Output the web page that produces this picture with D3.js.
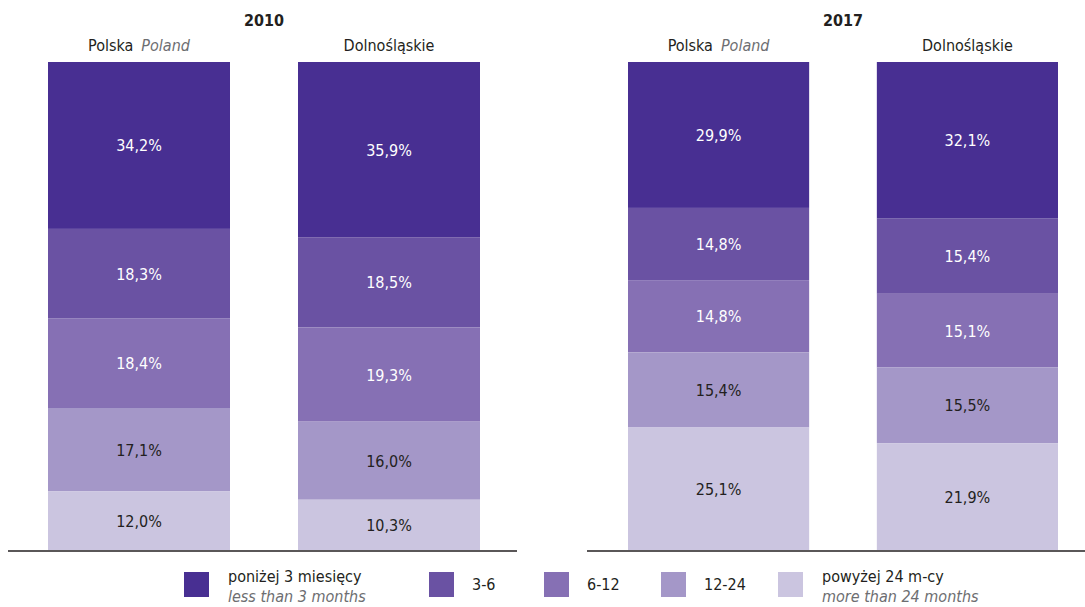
<!DOCTYPE html>
<html><head><meta charset="utf-8">
<script src="https://cdn.jsdelivr.net/npm/d3@7"></script>
<style>
body{margin:0;background:#fff;}
text{font-family:"DejaVu Sans Condensed","DejaVu Sans",sans-serif;font-stretch:condensed;}
</style></head>
<body><svg id="c" width="1085" height="607"></svg>
<script>
const years = ["2010", "2017"];
const regions = ["Polska", "Dolnośląskie"];
const regionsEn = ["Poland", ""];
const categories = ["poniżej 3 miesięcy", "3-6", "6-12", "12-24", "powyżej 24 m-cy"];
const categoriesEn = ["less than 3 months", "", "", "", "more than 24 months"];
const colors = ["#482f92", "#6a52a3", "#8670b4", "#a497c8", "#cbc5e0"];
const labelColors = ["#fff", "#fff", "#fff", "#231f20", "#231f20"];
const values2010 = {"Polska": [34.2, 18.3, 18.4, 17.1, 12.0], "Dolnośląskie": [35.9, 18.5, 19.3, 16.0, 10.3]};
const values2017 = {"Polska": [29.9, 14.8, 14.8, 15.4, 25.1], "Dolnośląskie": [32.1, 15.4, 15.1, 15.5, 21.9]};
const dataByYear = {"2010": values2010, "2017": values2017};

const svg = d3.select("#c");
const y = d3.scaleLinear().domain([0, 100]).range([550, 62]);
const panels = [
  {year: "2010", x0: 8, x1: 517, bars: [48, 480]},
  {year: "2017", x0: 587, x1: 1085, bars: [628, 1058]}
];
const fmt = v => d3.format(".1f")(v).replace(".", ",") + "%";

panels.forEach(p => {
  const x = d3.scaleBand().domain(regions).range(p.bars).paddingInner(0.272).paddingOuter(0);
  const g = svg.append("g");
  g.append("text").attr("x", (p.bars[0] + p.bars[1]) / 2).attr("y", 26)
    .attr("text-anchor", "middle").attr("font-weight", "bold").attr("font-size", 16)
    .attr("fill", "#231f20").text(p.year);
  regions.forEach((r, ri) => {
    const vals = dataByYear[p.year][r];
    const stack = [];
    let cum = 0;
    for (let i = vals.length - 1; i >= 0; i--) { stack[i] = [cum, cum + vals[i]]; cum += vals[i]; }
    const cx = x(r) + x.bandwidth() / 2;
    const t = g.append("text").attr("x", cx).attr("y", 51).attr("text-anchor", "middle")
      .attr("font-size", 16).attr("fill", "#231f20");
    t.append("tspan").text(r);
    if (regionsEn[ri]) t.append("tspan").attr("dx", 8).attr("font-style", "italic").attr("fill", "#6d6e71").text(regionsEn[ri]);
    vals.forEach((v, i) => {
      const [a, b] = stack[i];
      g.append("rect").attr("x", x(r)).attr("width", x.bandwidth())
        .attr("y", y(b)).attr("height", y(a) - y(b)).attr("fill", colors[i]);
      g.append("text").attr("x", cx).attr("y", (y(a) + y(b)) / 2 + 6)
        .attr("text-anchor", "middle").attr("font-size", 16).attr("fill", labelColors[i]).text(fmt(v));
    });
  });
  g.append("line").attr("x1", p.x0).attr("x2", p.x1).attr("y1", 551).attr("y2", 551)
    .attr("stroke", "#231f20").attr("stroke-width", 1.6);
});

const legX = [184, 429, 544, 661, 778];
const lg = svg.append("g");
categories.forEach((c, i) => {
  lg.append("rect").attr("x", legX[i]).attr("y", 572).attr("width", 25).attr("height", 25).attr("fill", colors[i]);
  if (categoriesEn[i]) {
    lg.append("text").attr("x", legX[i] + 44).attr("y", 582).attr("font-size", 16).attr("fill", "#231f20").text(c);
    lg.append("text").attr("x", legX[i] + 44).attr("y", 602).attr("font-size", 16).attr("font-style", "italic").attr("fill", "#6d6e71").text(categoriesEn[i]);
  } else {
    lg.append("text").attr("x", legX[i] + 43).attr("y", 590).attr("font-size", 16).attr("fill", "#231f20").text(c);
  }
});
</script></body></html>
